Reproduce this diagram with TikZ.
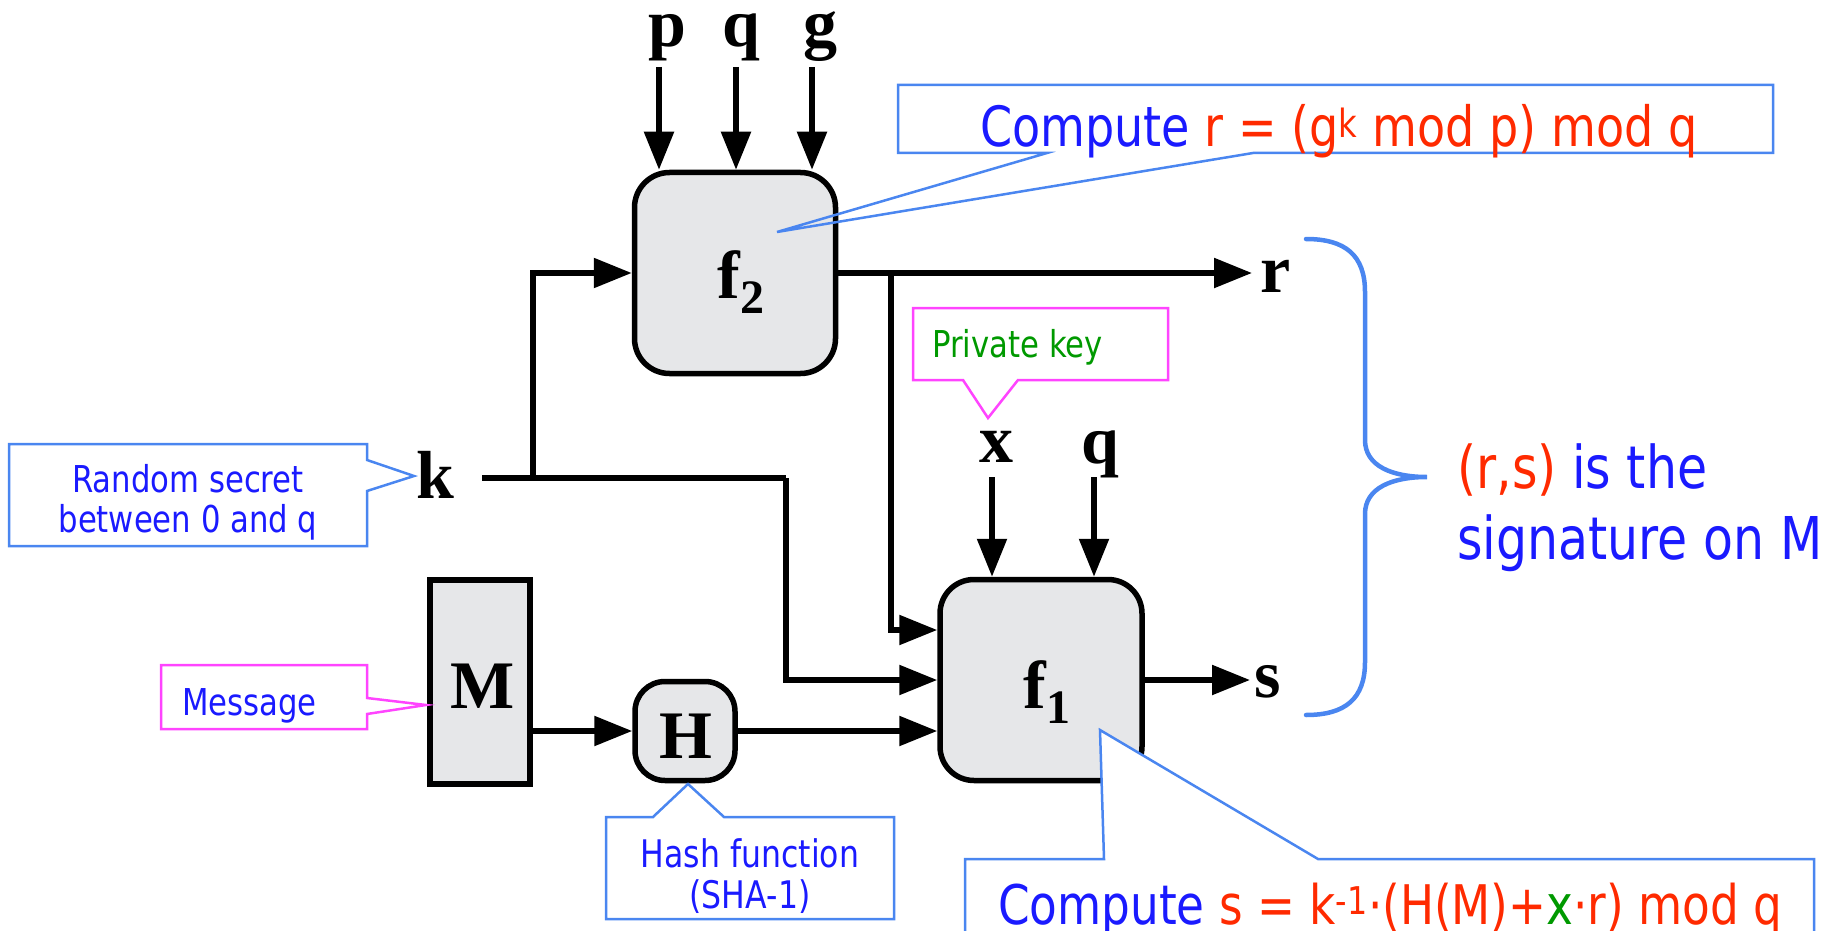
\documentclass[tikz,border=0pt]{standalone}
\usepackage{fontspec}
\usetikzlibrary{arrows.meta}
\newfontfamily\symfont{Liberation Serif}
\newfontfamily\notefont[FakeStretch=0.83]{DejaVu Sans}
\definecolor{boxgray}{HTML}{E6E7E9}
\definecolor{calloutblue}{HTML}{4A86F0}
\definecolor{calloutpink}{HTML}{FF44FF}
\definecolor{textblue}{HTML}{1A1AFF}
\definecolor{textred}{HTML}{FF2A00}
\definecolor{textgreen}{HTML}{009900}
\newcommand{\withsub}[2]{#1\raisebox{-15pt}{\fontsize{48}{48}\selectfont #2}}

\begin{document}
\begin{tikzpicture}[x=1pt,y=-1pt,
  block/.style={draw=black, line width=5.5pt, fill=boxgray, inner sep=0pt},
  wire/.style={line width=5.5pt},
  flow/.style={wire, -{Triangle[length=38pt,width=29pt]}},
  sym/.style={font=\symfont\bfseries\fontsize{68}{68}\selectfont, inner sep=0pt, anchor=base},
  note/.style={font=\notefont\fontsize{#1}{#1}\selectfont, inner sep=0pt, anchor=base west, text=textblue},
  notec/.style={note=#1, anchor=base},
  bluecallout/.style={draw=calloutblue, line width=2.5pt, line join=miter},
  pinkcallout/.style={draw=calloutpink, line width=2.5pt, line join=miter},
  bracestyle/.style={draw=calloutblue, line width=4.5pt, line cap=round},
]
\path[use as bounding box] (0,0) rectangle (1845,931);

% processing blocks
\node[block, rounded corners=35pt, minimum width=201pt, minimum height=201pt] (f2) at (735,273) {};
\node[block, rounded corners=34pt, minimum width=202pt, minimum height=201pt] (f1) at (1041,680) {};
\node[block, minimum width=100pt, minimum height=204pt] (M) at (480,682) {};
\node[block, rounded corners=30pt, minimum width=100pt, minimum height=99pt] (H) at (685,731) {};

% block and signal labels
\node[sym] (lf2) at (741,298) {\withsub{f}{2}};
\node[sym] (lf1) at (1047,708) {\withsub{f}{1}};
\node[sym] (lM) at (483,708) {M};
\node[sym] (lH) at (686,758) {H};
\node[sym] (p) at (667,47) {p};
\node[sym] (q) at (741,47) {q};
\node[sym] (g) at (820,47) {g};
\node[sym] (k) at (435,498) {k};
\node[sym] (r) at (1276,292) {r};
\node[sym] (s) at (1268,697) {s};
\node[sym] (x) at (996,462) {x};
\node[sym] (q1) at (1100,463) {q};

% inputs p, q, g into f2
\coordinate (pin) at (659,67);
\coordinate (qin) at (736,67);
\coordinate (gin) at (812,67);
\draw[flow] (pin) -- (pin |- f2.north);
\draw[flow] (qin) -- (qin |- f2.north);
\draw[flow] (gin) -- (gin |- f2.north);

% k feeds both f2 and f1
\coordinate (kout) at (482,478);
\coordinate (kj) at (533,478);
\coordinate (kd) at (786,478);
\draw[wire] (kout) -- (kd);
\draw[flow] (kj) |- (f2.west);
\draw[flow] (kd) |- (f1.west);

% r output and its branch into f1
\coordinate (rtip) at (1252,273);
\coordinate (rb) at (891,273);
\draw[flow] (f2.east) -- (rtip);
\draw[flow] (rb) |- ([yshift=50pt]f1.west);

% x, q into f1
\coordinate (xin) at (992,477);
\coordinate (q1in) at (1094,477);
\draw[flow] (xin) -- (xin |- f1.north);
\draw[flow] (q1in) -- (q1in |- f1.north);

% message path
\draw[flow] (M.east |- H.west) -- (H.west);
\draw[flow] (H.east) -- (H.east -| f1.west);

% s output
\coordinate (stip) at (1250,680);
\draw[flow] (f1.east) -- (stip);

% callout: computing r
\draw[bluecallout] (898,85) -- (1773,85) -- (1773,153) -- (1253,153) -- (777,232) -- (1047,153) -- (898,153) -- cycle;
\node[note=55.5] (cr) at (980,147) {Compute \color{textred}r = (g\textsuperscript{k} mod p) mod q};

% callout: private key
\draw[pinkcallout] (913,308) -- (1168,308) -- (1168,380) -- (1018,380) -- (988,418) -- (963,380) -- (913,380) -- cycle;
\node[note=37, text=textgreen] (pk) at (932,357) {Private key};

% callout: random secret
\draw[bluecallout] (9,444) -- (367,444) -- (367,460) -- (414,476) -- (367,491) -- (367,546) -- (9,546) -- cycle;
\node[notec=37] (rs1) at (188,492) {Random secret};
\node[notec=37] (rs2) at (188,532) {between 0 and q};

% callout: message
\draw[pinkcallout] (161,665) -- (367,665) -- (367,698) -- (426,705) -- (367,714) -- (367,729) -- (161,729) -- cycle;
\node[note=37] (msg) at (182,715) {Message};

% callout: hash function
\draw[bluecallout] (606,817) -- (653,817) -- (688,784) -- (724,817) -- (894,817) -- (894,919) -- (606,919) -- cycle;
\node[notec=38] (hf1) at (750,867) {Hash function};
\node[notec=38] (hf2) at (750,908) {(SHA-1)};

% brace grouping r and s
\draw[bracestyle] (1306,239) .. controls (1345,239) and (1365,255) .. (1365,292)
  -- (1365,440) .. controls (1365,466) and (1392,477) .. (1427,477)
  .. controls (1392,477) and (1365,488) .. (1365,514)
  -- (1365,662) .. controls (1365,699) and (1345,715) .. (1306,715);
\node[note=59] (sig1) at (1457,488) {\textcolor{textred}{(r,s)} is the};
\node[note=59] (sig2) at (1457,559) {signature on M};

% callout: computing s (drawn last, covers part of f1)
\draw[bluecallout, fill=white] (965,859) -- (1104,859) -- (1100,730) -- (1318,859) -- (1814,859) -- (1814,970) -- (965,970) -- cycle;
\node[note=54.6] (cs) at (998,924) {Compute \color{textred}s = k\textsuperscript{-1}{\textperiodcentered}(H(M)+\textcolor{textgreen}{x}{\textperiodcentered}r) mod q};
\end{tikzpicture}
\end{document}
